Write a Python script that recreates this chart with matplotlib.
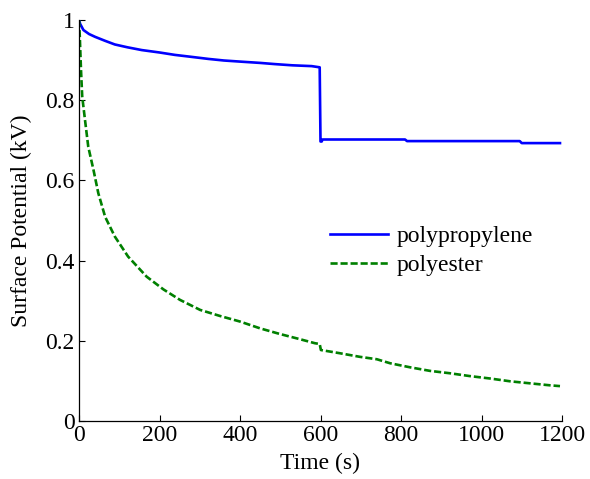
import matplotlib
matplotlib.use("Agg")
import matplotlib.pyplot as plt

# polypropylene (blue, solid)
pp_t = [0, 3, 11, 25, 40, 65, 89, 120, 156, 200, 238, 280, 321, 360, 404, 450, 487, 530, 578, 598,
        600, 603, 605, 810, 815, 1095, 1100, 1195]
pp_v = [1.0, 0.99, 0.975, 0.965, 0.958, 0.948, 0.939, 0.932, 0.925, 0.919, 0.913, 0.908, 0.903, 0.899,
        0.896, 0.893, 0.890, 0.887, 0.885, 0.882,
        0.697, 0.697, 0.702, 0.702, 0.698, 0.698, 0.693, 0.693]

# polyester (green, dashed)
pe_t = [0, 2, 5, 8, 15, 23, 36, 48, 65, 89, 122, 168, 210, 251, 301, 350, 400, 450, 499, 549, 586,
        598, 601, 648, 698, 740, 773, 822, 872, 922, 971, 1021, 1071, 1120, 1170, 1195]
pe_v = [1.0, 0.958, 0.875, 0.809, 0.75, 0.684, 0.626, 0.568, 0.509, 0.46, 0.41, 0.36, 0.328, 0.302,
        0.277, 0.262, 0.248, 0.231, 0.217, 0.204, 0.194,
        0.192, 0.177, 0.169, 0.160, 0.154, 0.144, 0.134, 0.125, 0.119, 0.112, 0.106, 0.099, 0.094,
        0.089, 0.087]

x_ticks = [0, 200, 400, 600, 800, 1000, 1200]
y_ticks = [0, 0.2, 0.4, 0.6, 0.8, 1.0]
y_tick_labels = ["0", "0.2", "0.4", "0.6", "0.8", "1"]

plt.rcParams['font.family'] = ['Liberation Serif', 'DejaVu Serif']

fig = plt.figure(figsize=(5.9, 4.79), dpi=100)
ax = fig.add_axes([79/590, 58/479, 483/590, 401/479])

ax.plot(pp_t, pp_v, color='#0000ff', lw=1.9, label='polypropylene')
ax.plot(pe_t, pe_v, color='#008000', lw=1.9, dashes=(2.7, 1.1), label='polyester')

ax.set_xlim(0, 1200)
ax.set_ylim(0, 1)
ax.set_xticks(x_ticks)
ax.set_yticks(y_ticks)
ax.set_yticklabels(y_tick_labels)
ax.tick_params(direction='in', length=4, width=0.8, labelsize=17, pad=3)
ax.spines['top'].set_visible(False)
ax.spines['right'].set_visible(False)
for s in ['left', 'bottom']:
    ax.spines[s].set_linewidth(0.9)

ax.set_xlabel('Time (s)', fontsize=17, labelpad=5)
ax.set_ylabel('Surface Potential (kV)', fontsize=17, labelpad=10)

ax.legend(loc='center left', bbox_to_anchor=(0.52, 0.424), frameon=False, fontsize=17,
          handlelength=2.45, handletextpad=0.35, borderpad=0, borderaxespad=0, labelspacing=0.3)

fig.savefig('out.png', dpi=100)
